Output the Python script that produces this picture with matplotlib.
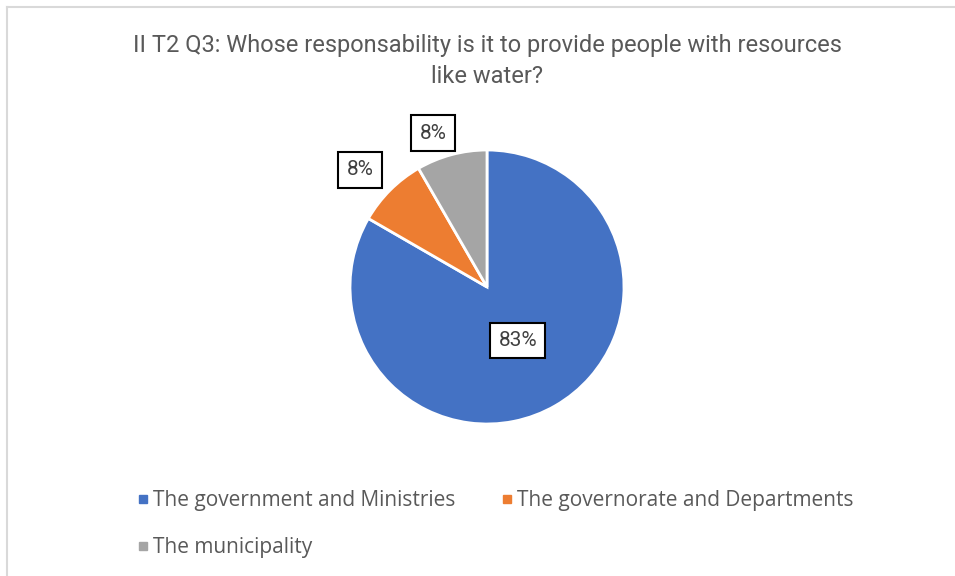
import matplotlib
matplotlib.use("Agg")
import matplotlib.pyplot as plt
from matplotlib.lines import Line2D
import numpy as np

categories = ["The government and Ministries", "The governorate and Departments", "The municipality"]
values = [10, 1, 1]
colors = ["#4472C4", "#ED7D31", "#A5A5A5"]
title = "II T2 Q3: Whose responsability is it to provide people with resources\nlike water?"

cond = "Roboto"

fig = plt.figure(figsize=(9.55, 5.76), dpi=100)
fig.patch.set_facecolor("white")

# border lines (top and left)
fig.add_artist(Line2D([7/955, 7/955], [0, 1 - 7/576], color="#d9d9d9", lw=1.5))
fig.add_artist(Line2D([7/955, 1], [1 - 7/576, 1 - 7/576], color="#d9d9d9", lw=1.5))

ax = fig.add_axes([(487-137)/955, (576-287-137)/576, 274/955, 274/576])
wedges, _ = ax.pie(values, colors=colors, startangle=90, counterclock=False,
                   wedgeprops=dict(edgecolor="white", linewidth=2))
ax.set_xlim(-1, 1)
ax.set_ylim(-1, 1)
ax.set_aspect("equal")
ax.axis("off")

total = sum(values)
dists = [0.45, 1.26, 1.19]
offsets = [0.0, 2.3, 4.3]
ang = 90.0
for v, d, o in zip(values, dists, offsets):
    span = 360.0 * v / total
    mid = np.deg2rad(ang - span / 2 + o)
    ang -= span
    ax.text(d * np.cos(mid), d * np.sin(mid), f"{100*v/total:.0f}%",
            ha="center", va="center", fontsize=15, color="#404040", family=cond,
            bbox=dict(boxstyle="square,pad=0.4", fc="white", ec="black", lw=1.5),
            clip_on=False)

fig.text(487/955, 1 - 61/576, title, ha="center", va="center", fontsize=17,
         color="#595959", family=cond, linespacing=1.45)

handles = [Line2D([], [], marker="s", ls="", color=c, markersize=6) for c in colors]
order = [0, 2, 1]
fig.legend([handles[i] for i in order], [categories[i] for i in order],
           ncol=2, loc="center left", bbox_to_anchor=(119/955, 1 - 524/576),
           frameon=False, labelcolor="#595959",
           prop={"family": "Open Sans", "size": 15},
           handlelength=0.5, handletextpad=0.25, columnspacing=2.2, labelspacing=1.25)

fig.savefig("out.png", dpi=100, facecolor="white")
